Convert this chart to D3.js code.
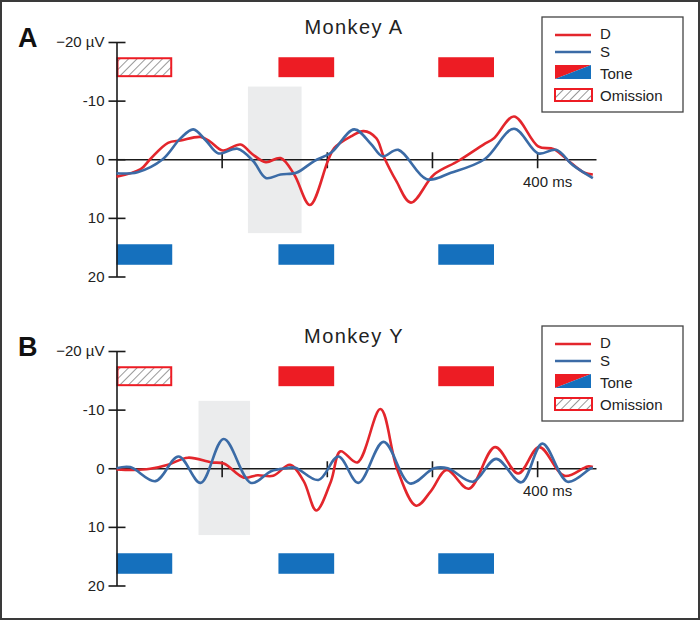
<!DOCTYPE html>
<html>
<head>
<meta charset="utf-8">
<script src="https://cdn.jsdelivr.net/npm/d3@7"></script>
<style>
  body { margin: 0; background: #fff; }
  svg { display: block; font-family: "Liberation Sans", Arial, sans-serif; }
</style>
</head>
<body>
<div id="chart"></div>
<script>
// 0: DATA (time in ms, amplitude in µV, negative up)
const panelTitles = ["Monkey A", "Monkey Y"];
const panelLetters = ["A", "B"];
const timeTicks = [100, 200, 300, 400];
const yTicks = [-20, -10, 0, 10, 20];
const yTickLabels = ["−20 µV", "-10", "0", "10", "20"];
const toneOnsets = [0, 154, 306];
const toneDuration = 53;
const topBarType = ["omission", "tone", "tone"];
const topBarRange = [-17.4, -14];
const bottomBarRange = [14.5, 18];
// shaded window per panel: [t0, t1, v0, v1]
const shadeWindows = [[125, 176, -12.4, 12.6], [78, 127, -11.5, 11.4]];
const legendLabels = ["D", "S", "Tone", "Omission"];

const monkeyA_D = [[0,3.0],[23,1.7],[32,0],[49,-2.8],[61,-3.2],[80,-3.8],[89,-3.0],[101,-1.5],[118,-2.5],[129,-0.9],
  [142,0.5],[156,-0.2],[169,2.6],[184,7.8],[201,0.3],[207,-1.9],[223,-3.9],[235,-4.8],[247,-3.6],[254,-0.5],
  [266,3.7],[280,7.4],[302,2.6],[325,0.3],[349,-2.5],[359,-3.6],[378,-7.3],[401,-2.2],[416,-1.7],[432,0.6],[445,2.3],[453,2.6]];
const monkeyA_S = [[0,2.4],[20,2.2],[44,0],[61,-3.6],[73,-5.1],[85,-3.2],[97,-1.0],[115,-1.8],[130,0.3],[142,3.2],
  [156,2.6],[171,2.3],[188,0.3],[204,-1.1],[226,-5.1],[242,-2.6],[253,-0.5],[268,-1.6],[295,3.4],[318,2.3],
  [350,0],[378,-5.2],[401,-1.0],[418,-1.6],[434,1.0],[453,3.2]];
const monkeyY_D = [[0,0.2],[16,0.3],[32,0.1],[49,-0.6],[68,-1.8],[90,-1.0],[102,-0.8],[121,1.6],[134,1.2],[149,1.3],
  [165,-0.6],[178,2.2],[190,7.2],[204,2.2],[213,-2.9],[229,-1.0],[251,-10.1],[267,0.2],[285,6.4],[299,3.9],
  [314,0.3],[335,3.5],[360,-3.6],[382,0.9],[402,-3.6],[426,1.3],[448,-0.3],[453,-0.2]];
const monkeyY_S = [[0,0],[13,-0.2],[37,2.2],[59,-2.0],[80,2.5],[102,-5.0],[128,2.5],[147,0.5],[161,0],[170,-0.1],
  [192,2.0],[211,-2.0],[230,2.5],[254,-4.5],[279,2.6],[302,0],[315,0],[339,2.3],[361,-1.6],[385,2.4],
  [405,-4.2],[429,2.3],[451,0],[453,-0.1]];

const seriesD = [monkeyA_D, monkeyY_D];
const seriesS = [monkeyA_S, monkeyY_S];

// 1: GLOBAL SETTINGS
const width = 700, height = 620;
const panelTop = [0, 309];
const colors = {
  D: "#e3262c", S: "#3b6ba6", redBar: "#ed1c24", blueBar: "#1570bd",
  shade: "#ebeced", axis: "#1a1a1a", text: "#222"
};

const svg = d3.select("#chart")
  .append("svg")
  .attr("width", width)
  .attr("height", height);

// hatch pattern for the omission box
svg.append("defs")
  .append("pattern")
  .attr("id", "hatch")
  .attr("patternUnits", "userSpaceOnUse")
  .attr("width", 6)
  .attr("height", 6)
  .attr("patternTransform", "rotate(45)")
  .append("line")
  .attr("x1", 0).attr("y1", 0).attr("x2", 0).attr("y2", 6)
  .attr("stroke", "#333")
  .attr("stroke-width", 1);

// outer frame
svg.append("rect")
  .attr("x", 1).attr("y", 1)
  .attr("width", width - 2).attr("height", height - 2)
  .attr("fill", "none")
  .attr("stroke", "#3a3a3a")
  .attr("stroke-width", 2);

// 2: SCALES
const xScale = d3.scaleLinear()
  .domain([0, 456])
  .range([116.5, 596]);

// 3: PANEL
function drawPanel(i) {
  const g = svg.append("g").attr("transform", `translate(0,${panelTop[i]})`);

  const yScale = d3.scaleLinear()
    .domain([-20, 20])
    .range([42, 276.5]);

  // 3.a: shaded window
  const w = shadeWindows[i];
  g.append("rect")
    .attr("x", xScale(w[0]))
    .attr("y", yScale(w[2]))
    .attr("width", xScale(w[1]) - xScale(w[0]))
    .attr("height", yScale(w[3]) - yScale(w[2]))
    .attr("fill", colors.shade);

  // 3.b: tone / omission bars
  toneOnsets.forEach((t, j) => {
    const x0 = xScale(t), x1 = xScale(t + toneDuration);
    if (topBarType[j] === "omission") {
      g.append("rect")
        .attr("x", x0 + 1).attr("y", yScale(topBarRange[0]) + 1)
        .attr("width", x1 - x0 - 2).attr("height", yScale(topBarRange[1]) - yScale(topBarRange[0]) - 2)
        .attr("fill", "#fff");
      g.append("rect")
        .attr("x", x0 + 1).attr("y", yScale(topBarRange[0]) + 1)
        .attr("width", x1 - x0 - 2).attr("height", yScale(topBarRange[1]) - yScale(topBarRange[0]) - 2)
        .attr("fill", "url(#hatch)")
        .attr("stroke", colors.redBar)
        .attr("stroke-width", 2);
    } else {
      g.append("rect")
        .attr("x", x0).attr("y", yScale(topBarRange[0]))
        .attr("width", x1 - x0).attr("height", yScale(topBarRange[1]) - yScale(topBarRange[0]))
        .attr("fill", colors.redBar);
    }
    g.append("rect")
      .attr("x", x0).attr("y", yScale(bottomBarRange[0]))
      .attr("width", x1 - x0).attr("height", yScale(bottomBarRange[1]) - yScale(bottomBarRange[0]))
      .attr("fill", colors.blueBar);
  });

  // 3.c: axes
  g.append("g")
    .attr("transform", `translate(${xScale(0)},0)`)
    .call(d3.axisLeft(yScale)
      .tickValues(yTicks)
      .tickFormat((d, j) => yTickLabels[j])
      .tickSize(8)
      .tickPadding(4)
      .tickSizeOuter(0))
    .attr("font-size", 15)
    .attr("font-family", null)
    .call(a => a.select(".domain").attr("stroke", colors.axis).attr("stroke-width", 1.6))
    .call(a => a.selectAll(".tick line").attr("x1", 9).attr("stroke", colors.axis).attr("stroke-width", 1.6))
    .call(a => a.selectAll(".tick text").attr("fill", colors.text));

  g.append("g")
    .attr("transform", `translate(0,${yScale(0)})`)
    .call(d3.axisBottom(xScale)
      .tickValues(timeTicks)
      .tickFormat(d => d === 400 ? "400 ms" : "")
      .tickSize(9)
      .tickPadding(8)
      .tickSizeOuter(0))
    .attr("font-size", 15)
    .attr("font-family", null)
    .call(a => a.select(".domain").attr("stroke", colors.axis).attr("stroke-width", 1.6))
    .call(a => a.selectAll(".tick line").attr("y1", -7).attr("stroke", colors.axis).attr("stroke-width", 1.6))
    .call(a => a.selectAll(".tick text").attr("dx", 10).attr("fill", colors.text));

  // 3.d: waveforms
  const line = d3.line()
    .x(d => xScale(d[0]))
    .y(d => yScale(d[1]))
    .curve(d3.curveCatmullRom.alpha(0.5));

  g.append("path")
    .datum(seriesD[i])
    .attr("d", line)
    .attr("fill", "none")
    .attr("stroke", colors.D)
    .attr("stroke-width", 2.6);

  g.append("path")
    .datum(seriesS[i])
    .attr("d", line)
    .attr("fill", "none")
    .attr("stroke", colors.S)
    .attr("stroke-width", 2.6);

  // 3.e: titles
  g.append("text")
    .attr("x", 354)
    .attr("y", 34)
    .attr("text-anchor", "middle")
    .attr("font-size", 20)
    .attr("letter-spacing", 1.4)
    .attr("fill", colors.text)
    .text(panelTitles[i]);

  g.append("text")
    .attr("x", 18)
    .attr("y", 47)
    .attr("font-size", 27)
    .attr("font-weight", "bold")
    .attr("fill", "#111")
    .text(panelLetters[i]);

  // 3.f: legend
  const lg = g.append("g").attr("transform", "translate(542,17)");
  lg.append("rect")
    .attr("width", 141).attr("height", 95)
    .attr("fill", "#fff")
    .attr("stroke", "#444")
    .attr("stroke-width", 1.3);

  lg.append("line").attr("x1", 13).attr("x2", 49).attr("y1", 18).attr("y2", 18)
    .attr("stroke", colors.D).attr("stroke-width", 2.6);
  lg.append("line").attr("x1", 13).attr("x2", 49).attr("y1", 35).attr("y2", 35)
    .attr("stroke", colors.S).attr("stroke-width", 2.6);
  lg.append("path").attr("d", "M13,48H49L13,62Z").attr("fill", colors.redBar);
  lg.append("path").attr("d", "M49,48V62H13Z").attr("fill", colors.blueBar);
  lg.append("rect").attr("x", 13).attr("y", 72).attr("width", 37).attr("height", 12).attr("fill", "#fff");
  lg.append("rect").attr("x", 13).attr("y", 72).attr("width", 37).attr("height", 12)
    .attr("fill", "url(#hatch)").attr("stroke", colors.redBar).attr("stroke-width", 2);

  lg.selectAll(".lbl")
    .data(legendLabels)
    .enter()
    .append("text")
    .attr("class", "lbl")
    .attr("x", 58)
    .attr("y", (d, j) => [22, 40, 62, 84][j])
    .attr("font-size", 15)
    .attr("fill", colors.text)
    .text(d => d);
}

drawPanel(0);
drawPanel(1);
</script>
</body>
</html>
